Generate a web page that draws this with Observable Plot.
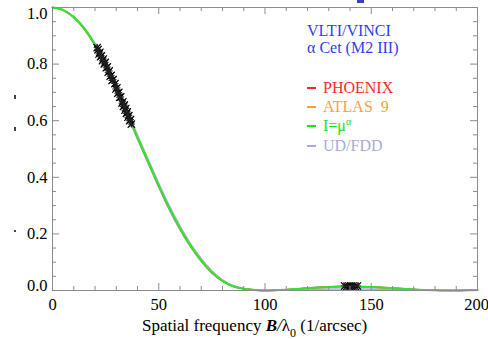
<!DOCTYPE html>
<html><head><meta charset="utf-8">
<script src="https://cdn.jsdelivr.net/npm/d3@7"></script>
<script src="https://cdn.jsdelivr.net/npm/@observablehq/plot@0.6"></script>
<style>
body{margin:0;background:#fff;}
#wrap{position:relative;width:488px;height:339px;overflow:hidden;font-family:"Liberation Serif","Times New Roman",serif;}
.ov{position:absolute;white-space:nowrap;line-height:16px;font-size:15.5px;}
.dash{display:inline-block;width:9px;height:1.6px;vertical-align:4px;margin-right:7px;}
</style></head><body>
<div id="wrap"></div>
<script>
// spatial frequency grid (1/arcsec)
const freq = [0,5,10,15,20,25,30,35,40,45,50,55,60,65,70,75,80,85,90,95,100,105,110,115,120,125,130,135,140,145,150,155,160,165,170,175,180,185,190,195,200];
// model squared visibilities
const powerLaw = [1.000,0.991,0.966,0.925,0.868,0.797,0.715,0.628,0.540,0.455,0.370,0.290,0.220,0.158,0.106,0.064,0.034,0.015,0.006,0.002,0.000,0.0008,0.0028,0.0055,0.0083,0.0108,0.0127,0.0138,0.0140,0.0135,0.0123,0.0105,0.0083,0.0060,0.0038,0.0020,0.0007,0.0001,0.0002,0.0007,0.0015];
const phoenix  = [1.000,0.991,0.966,0.924,0.867,0.796,0.714,0.627,0.539,0.454,0.369,0.289,0.219,0.157,0.105,0.063,0.034,0.015,0.006,0.002,0.000,0.0008,0.0027,0.0054,0.0082,0.0107,0.0126,0.0137,0.0139,0.0134,0.0122,0.0104,0.0082,0.0059,0.0037,0.0019,0.0007,0.0001,0.0002,0.0007,0.0014];
const atlas9   = [1.000,0.991,0.966,0.925,0.868,0.797,0.716,0.629,0.541,0.456,0.371,0.291,0.221,0.159,0.107,0.065,0.035,0.016,0.006,0.002,0.000,0.0008,0.0028,0.0055,0.0084,0.0109,0.0128,0.0139,0.0141,0.0136,0.0124,0.0106,0.0084,0.0061,0.0039,0.0021,0.0008,0.0001,0.0002,0.0007,0.0015];
const udCurve  = [1.000,0.992,0.968,0.929,0.874,0.805,0.724,0.638,0.550,0.465,0.380,0.300,0.229,0.166,0.113,0.070,0.038,0.017,0.007,0.002,0.000,0.001,0.003,0.006,0.009,0.0115,0.0133,0.0143,0.0146,0.0141,0.0129,0.0111,0.0089,0.0065,0.0042,0.0023,0.0009,0.0002,0.0001,0.0005,0.0012];
const fddCurve = [1.000,0.990,0.964,0.922,0.864,0.792,0.710,0.622,0.534,0.449,0.364,0.284,0.214,0.153,0.102,0.061,0.032,0.014,0.005,0.001,0.000,0.0003,0.001,0.002,0.003,0.004,0.0046,0.005,0.005,0.0048,0.0044,0.0037,0.003,0.0022,0.0014,0.0008,0.0003,0.0001,0.0000,0.0001,0.0003];
// VLTI/VINCI measurements
const visF   = [21.0,21.4,21.9,22.3,22.6,23.0,23.5,23.9,24.4,24.8,25.3,25.8,26.2,26.7,27.1,27.6,28.0,28.5,29.4,29.8,30.3,30.7,31.2,31.6,32.1,32.7,33.1,33.4,33.8,34.1,34.5,34.8,35.2,35.5,35.9,36.3,36.7,37.1,137.5,138.5,139.5,140.5,141.5,142.5,143.5];
const visV   = [0.858,0.851,0.836,0.842,0.826,0.829,0.812,0.818,0.801,0.806,0.787,0.790,0.771,0.776,0.757,0.760,0.742,0.745,0.731,0.712,0.716,0.697,0.700,0.683,0.684,0.662,0.667,0.650,0.655,0.637,0.643,0.626,0.631,0.612,0.618,0.600,0.604,0.588,0.016,0.015,0.016,0.015,0.016,0.015,0.016];
const visErr = [0.012,0.010,0.013,0.011,0.012,0.010,0.013,0.011,0.012,0.010,0.013,0.011,0.012,0.010,0.013,0.011,0.012,0.010,0.012,0.011,0.013,0.010,0.012,0.011,0.013,0.012,0.010,0.013,0.011,0.012,0.010,0.013,0.011,0.012,0.010,0.013,0.011,0.012,0.007,0.007,0.007,0.007,0.007,0.007,0.007];
// axis ticks
const xMajor = [0,50,100,150,200];
const xMinor = [10,20,30,40,60,70,80,90,110,120,130,140,160,170,180,190];
const yMajor = [0,0.2,0.4,0.6,0.8,1.0];
const yMinor = [0.05,0.1,0.15,0.25,0.3,0.35,0.45,0.5,0.55,0.65,0.7,0.75,0.85,0.9,0.95];
const xLabel = "Spatial frequency";
const legendTitle = ["VLTI/VINCI","α Cet (M2 III)"];
const legendNames = ["PHOENIX","ATLAS  9","I=μ","UD/FDD"];
const legendColors = ["#ff2a2a","#ffa040","#22e022","#a9acd8"];

const W=488,H=339,mL=52,mR=11,mT=7,mB=49;
const pw=W-mL-mR, ph=H-mT-mB;
const curves = freq.map((f,i)=>({f, ud:udCurve[i], fdd:fddCurve[i], ph:phoenix[i], at:atlas9[i], pl:powerLaw[i]}));
const pts = visF.map((f,i)=>({f, v:visV[i], e:visErr[i]}));
const axisCol = "#8c8c8c";
const fmt = d3.format(".1f");

const chart = Plot.plot({
  width:W, height:H, marginLeft:mL, marginRight:mR, marginTop:mT, marginBottom:mB,
  x:{domain:[0,200]}, y:{domain:[0,1]},
  style:{fontFamily:"Liberation Serif", fontSize:"16px", color:"#000", background:"transparent"},
  marks:[
    Plot.areaY(curves,{x:"f", y1:"fdd", y2:"ud", fill:"#c6c8ec", curve:"monotone-x"}),
    Plot.lineY(curves,{x:"f", y:"ud", stroke:legendColors[3], strokeWidth:1.3, curve:"monotone-x"}),
    Plot.lineY(curves,{x:"f", y:"fdd", stroke:legendColors[3], strokeWidth:1.3, curve:"monotone-x"}),
    Plot.lineY(curves,{x:"f", y:"ph", stroke:legendColors[0], strokeWidth:1.5, curve:"monotone-x"}),
    Plot.lineY(curves,{x:"f", y:"at", stroke:legendColors[1], strokeWidth:1.5, curve:"monotone-x"}),
    Plot.lineY(curves,{x:"f", y:"pl", stroke:"#2ee62e", strokeWidth:2, curve:"monotone-x"}),
    Plot.ruleX(pts,{x:"f", y1:d=>d.v-d.e, y2:d=>d.v+d.e, stroke:"#000", strokeWidth:1}),
    Plot.dot(pts,{x:"f", y:"v", symbol:"times", r:3.4, stroke:"#000", strokeWidth:1.2}),
    Plot.dot(pts,{x:"f", y:"v", symbol:"plus", r:2.4, stroke:"#222", strokeWidth:1}),
    // inward ticks on all four sides
    Plot.tickY(yMinor,{insetRight:pw-4, stroke:axisCol}),
    Plot.tickY(yMajor,{insetRight:pw-7, stroke:axisCol}),
    Plot.tickY(yMinor,{insetLeft:pw-4, stroke:axisCol}),
    Plot.tickY(yMajor,{insetLeft:pw-7, stroke:axisCol}),
    Plot.tickX(xMinor,{insetTop:ph-4, stroke:axisCol}),
    Plot.tickX(xMajor,{insetTop:ph-7, stroke:axisCol}),
    Plot.tickX(xMinor,{insetBottom:ph-4, stroke:axisCol}),
    Plot.tickX(xMajor,{insetBottom:ph-7, stroke:axisCol}),
    Plot.frame({stroke:axisCol}),
    Plot.axisY(yMajor.filter(d=>d>0 && d<1),{tickSize:0, tickPadding:5, label:null, tickFormat:fmt, fontSize:16.5}),
    Plot.axisY([1.0],{tickSize:0, tickPadding:5, label:null, tickFormat:fmt, fontSize:16.5, dy:6}),
    Plot.axisY([0],{tickSize:0, tickPadding:5, label:null, tickFormat:fmt, fontSize:16.5, dy:-5}),
    Plot.axisX(xMajor.filter(d=>d<200),{tickSize:0, tickPadding:8, label:null, tickFormat:d=>String(d), fontSize:16.5}),
    Plot.axisX([200],{tickSize:0, tickPadding:8, label:null, tickFormat:d=>String(d), fontSize:16.5, dx:-1})
  ]
});
const wrap = document.getElementById("wrap");
wrap.appendChild(chart);

function ov(html, left, top, style){
  const d=document.createElement("div");
  d.className="ov"; d.innerHTML=html;
  d.style.left=left+"px"; d.style.top=top+"px";
  if(style) Object.assign(d.style, style);
  wrap.appendChild(d); return d;
}
ov(xLabel+' <b><i>B</i></b><i>/</i>λ<span style="position:relative;top:6px;font-size:12px;line-height:0">0</span> (1/arcsec)', 142, 318, {fontSize:"17px"});
ov(legendTitle[0], 307, 23, {color:"#2f3ff0", fontSize:"16px"});
ov(legendTitle[1], 307, 40, {color:"#2f3ff0", fontSize:"16px"});
const tops=[80,99,118,138];
legendNames.forEach((n,i)=>{
  const col = i===2 ? "#22e022" : legendColors[i];
  const txt = i===2 ? n+'<span style="position:relative;top:-6px;font-size:10px;line-height:0">α</span>' : n.replace(/ /g,"&nbsp;");
  ov('<span class="dash" style="background:'+col+'"></span>'+txt, 307, tops[i], {color:col, fontSize:"16px"});
});
// small blue mark at the top edge
const r=document.createElement("div");
Object.assign(r.style,{position:"absolute",left:"357px",top:"0px",width:"7px",height:"3px",background:"#3b3fb8"});
wrap.appendChild(r);
// remnants of a clipped y label
[[14,95,2,4],[14,127,2,4],[14,230,2,2]].forEach(([x,y,w,h])=>{
  const m=document.createElement("div");
  Object.assign(m.style,{position:"absolute",left:x+"px",top:y+"px",width:w+"px",height:h+"px",background:"#444"});
  wrap.appendChild(m);
});
</script>
</body></html>
